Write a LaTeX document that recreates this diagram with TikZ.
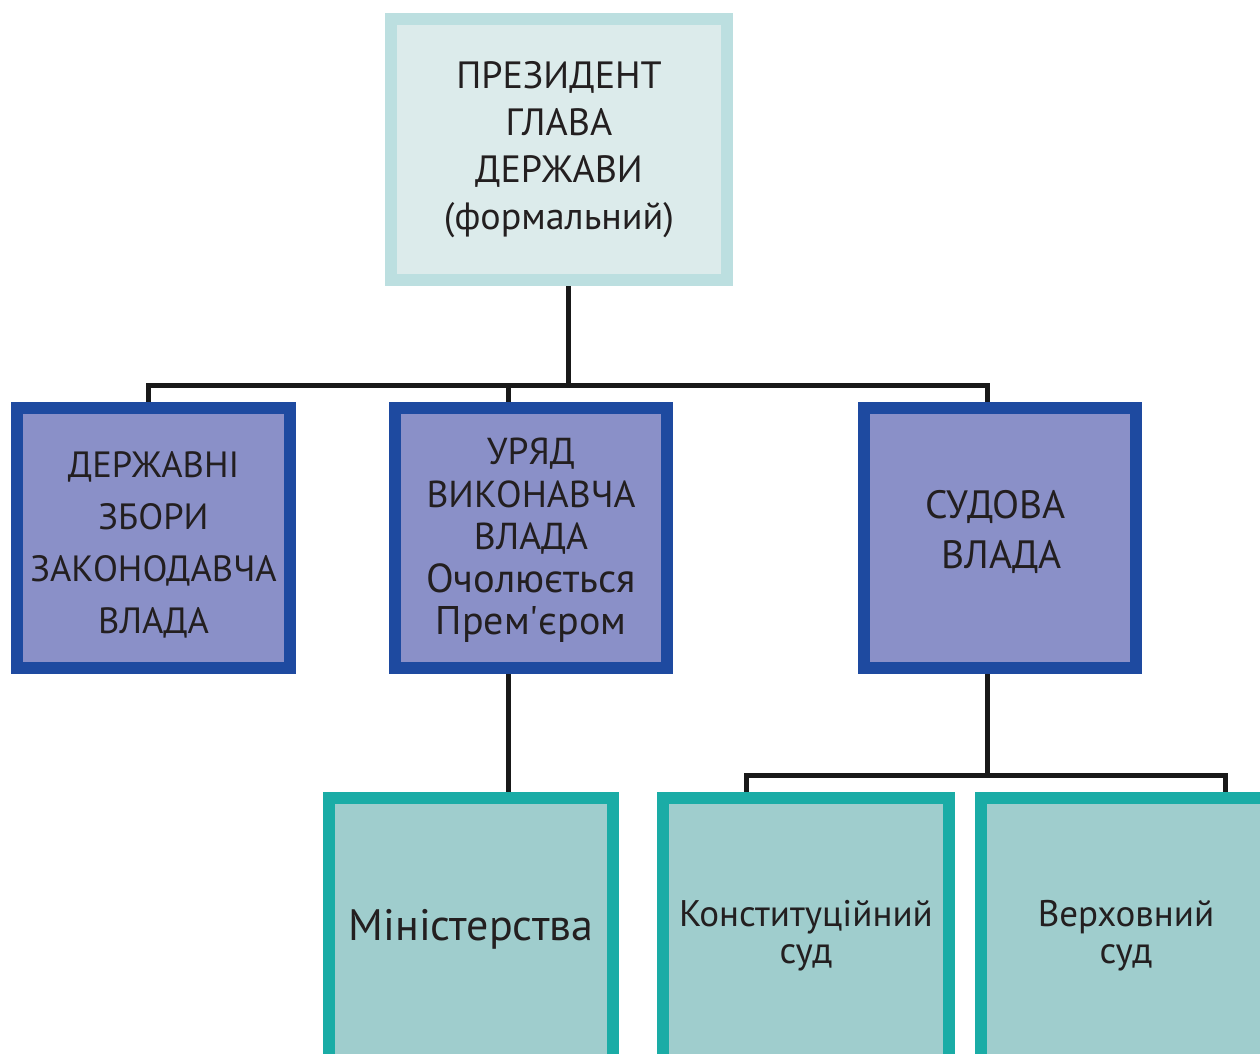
\documentclass[tikz,border=0pt]{standalone}
\usepackage{fontspec}
\setmainfont{PT Sans}
\usetikzlibrary{backgrounds}
\definecolor{presB}{HTML}{BCDFE0}
\definecolor{presF}{HTML}{DCEBEB}
\definecolor{blueB}{HTML}{1E4AA0}
\definecolor{blueF}{HTML}{8A90C8}
\definecolor{tealB}{HTML}{1AACA6}
\definecolor{tealF}{HTML}{9FCDCD}
\definecolor{ink}{HTML}{231F20}
\newcommand{\fs}[2]{\fontsize{#1}{#2}\selectfont}
\tikzset{
  box/.style={rectangle, line width=12pt, inner sep=0pt},
  presbox/.style={box, draw=presB, fill=presF, minimum width=336pt, minimum height=261pt},
  bluebox/.style={box, draw=blueB, fill=blueF, minimum width=272pt, minimum height=260pt},
  tealbox/.style={box, draw=tealB, fill=tealF, minimum height=272pt},
  txt/.style={align=center, text=ink, inner sep=0pt},
  conn/.style={draw=black!90, line width=5pt, line join=miter}
}
\begin{document}
\begin{tikzpicture}[x=1pt, y=-1pt]
\useasboundingbox (0,0) rectangle (1260,1054);
\clip (0,0) rectangle (1260,1054);
% boxes
\node[presbox] (pres) at (559,149.5) {};
\node[bluebox, minimum width=273pt] (leg) at (153.5,538) {};
\node[bluebox] (gov) at (531,538) {};
\node[bluebox] (jud) at (1000,538) {};
\node[tealbox, minimum width=284pt] (min) at (471,934) {};
\node[tealbox, minimum width=286pt] (kon) at (806,934) {};
\node[tealbox, minimum width=290pt] (ver) at (1126,934) {};
% texts
\node[txt, font=\fs{38}{47}] (presT) at (559,149.5)
  {ПРЕЗИДЕНТ\\ГЛАВА\\ДЕРЖАВИ\\(формальний)};
\node[txt, font=\fs{36.5}{52}] (legT) at (153.5,545)
  {ДЕРЖАВНІ\\ЗБОРИ\\ЗАКОНОДАВЧА\\ВЛАДА};
\node[txt, font=\fs{37.5}{42.5}] (govT) at (531,540.5)
  {УРЯД\\ВИКОНАВЧА\\ВЛАДА\\{\fs{40.5}{42.5}Очолюється}\\{\fs{40}{42.5}Прем\textquotesingle єром}};
\node[txt, font=\fs{39.5}{50}] (judT) at (995.5,532)
  {СУДОВА\\\hspace*{12pt}ВЛАДА};
\node[txt, font=\fs{44}{50}] (minT) at (471,929)
  {Міністерства};
\node[txt, font=\fs{37}{37}] (konT) at (806,935.5)
  {Конституційний\\суд};
\node[txt, font=\fs{37}{37}] (verT) at (1126,935.5)
  {Верховний\\суд};
% connectors
\coordinate (pT) at (568,385);
\coordinate (busL) at (148,385);
\coordinate (busM) at (508,385);
\coordinate (busR) at (987,385);
\coordinate (jT) at (987,775);
\coordinate (cL) at (746,775);
\coordinate (cR) at (1225,775);
\begin{scope}[on background layer]
\draw[conn] (pT |- pres.south) -- (pT);
\draw[conn] (busL |- leg.north) -- (busL) -- (busR) -- (busR |- jud.north);
\draw[conn] (busM) -- (busM |- gov.north);
\draw[conn] (busM |- gov.south) -- (busM |- min.north);
\draw[conn] (jT |- jud.south) -- (jT);
\draw[conn] (cL |- kon.north) -- (cL) -- (cR) -- (cR |- ver.north);
\end{scope}
\end{tikzpicture}
\end{document}
